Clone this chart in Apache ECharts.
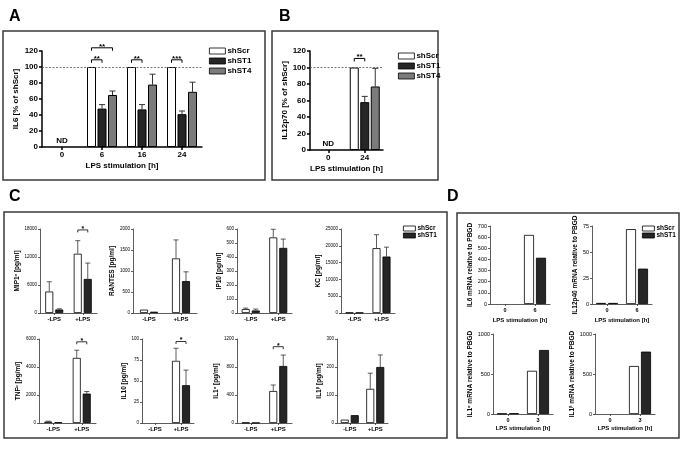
<!DOCTYPE html>
<html><head><meta charset="utf-8">
<script src="https://cdn.jsdelivr.net/npm/echarts@6/dist/echarts.min.js"></script>
<style>html,body{margin:0;padding:0;background:#fff}#c{width:685px;height:450px}</style>
</head><body><div id="c"></div>
<script>
const FONT = '"Liberation Sans", Arial, sans-serif';

// ---------- Panel A ----------
const catsA = ['0', '6', '16', '24'];
const aScr = [null, 100, 100, 100];
const aST1 = [null, 48, 47, 41];
const aST1Err = [null, 53, 53, 45];
const aST4 = [null, 65, 78, 69];
const aST4Err = [null, 70, 91, 81];
const sigA = [[1, 109, 0, 1], [1, 124, 0, 2], [2, 109, 0, 1], [3, 109, 0, 1]];
const sigAText = ['**', '**', '**', '***'];

// ---------- Panel B ----------
const catsB = ['0', '24'];
const bScr = [null, 100];
const bST1 = [null, 58];
const bST1Err = [null, 65];
const bST4 = [null, 77];
const bST4Err = [null, 99];
const sigB = [[1, 111, 0, 1]];
const sigBText = ['**'];

// ---------- Panel C ----------
const catsC = ['-LPS', '+LPS'];
const mipScr = [4600, 12700], mipScrErr = [6700, 15500];
const mipST1 = [750, 7300], mipST1Err = [900, 10700];
const rantesScr = [80, 1300], rantesScrErr = [null, 1740];
const rantesST1 = [30, 760], rantesST1Err = [null, 980];
const ip10Scr = [28, 540], ip10ScrErr = [35, 598];
const ip10ST1 = [18, 465], ip10ST1Err = [28, 528];
const kcScr = [100, 19300], kcScrErr = [null, 23300];
const kcST1 = [100, 16800], kcST1Err = [null, 19600];
const tnfScr = [100, 4650], tnfScrErr = [130, 5200];
const tnfST1 = [50, 2100], tnfST1Err = [null, 2250];
const il10Scr = [null, 74], il10ScrErr = [null, 89];
const il10ST1 = [null, 45], il10ST1Err = [null, 63];
const il1aScr = [5, 457], il1aScrErr = [null, 543];
const il1aST1 = [3, 814], il1aST1Err = [null, 971];
const il1bScr = [12, 122], il1bScrErr = [null, 178];
const il1bST1 = [28, 200], il1bST1Err = [null, 243];

// ---------- Panel D ----------
const catsD1 = ['0', '6'];
const catsD2 = ['0', '3'];
const il6mScr = [null, 620], il6mST1 = [null, 415];
const il12mScr = [1, 72], il12mST1 = [1, 34];
const il1amScr = [5, 540], il1amST1 = [8, 800];
const il1bmScr = [null, 600], il1bmST1 = [null, 780];

const COLORS = { shScr: '#ffffff', shST1: '#262626', shST4: '#7b7b7b' };

const option = {
  animation: false, backgroundColor: '#fff', textStyle: { fontFamily: FONT },
  grid: [], xAxis: [], yAxis: [], series: [], legend: [], graphic: []
};

// Greek letters in axis names are drawn small and raised, as in the figure
function richName(name) {
  return name.replace(/[^αβ]+/g, m => '{b|' + m + '}').replace(/[αβ]/g, m => '{s|' + m + '}');
}

function addPanel(p) {
  const gi = option.grid.length;
  const axCol = p.axisColor || '#000';
  option.grid.push({ left: p.left, top: p.top, width: p.width, height: p.height });
  option.xAxis.push({
    type: 'category', gridIndex: gi, data: p.cats,
    axisLine: { lineStyle: { color: axCol, width: p.axisW } },
    axisTick: { show: true, alignWithLabel: true, length: p.tickLen, lineStyle: { color: axCol, width: p.axisW } },
    axisLabel: { color: '#000', fontSize: p.xFont, fontWeight: 'bold', margin: p.xMargin, fontFamily: FONT, interval: 0 },
    name: p.xName || '', nameLocation: 'middle', nameGap: p.xNameGap || 0,
    nameTextStyle: { color: '#000', fontSize: p.xNameFont || 8, fontWeight: 'bold', fontFamily: FONT }
  });
  const hasGreek = /[αβ]/.test(p.yName);
  option.yAxis.push({
    type: 'value', gridIndex: gi, min: 0, max: p.max, interval: p.interval,
    splitLine: { show: false },
    axisLine: { show: true, lineStyle: { color: axCol, width: p.axisW } },
    axisTick: { show: true, length: p.tickLen, lineStyle: { color: axCol, width: p.axisW } },
    axisLabel: { color: '#000', fontSize: p.yFont, fontWeight: p.yBold ? 'bold' : 'normal', margin: p.yMargin, fontFamily: FONT, formatter: v => String(v) },
    name: hasGreek ? richName(p.yName) : p.yName, nameLocation: 'middle', nameRotate: 90, nameGap: p.yNameGap,
    nameTextStyle: {
      color: '#000', fontSize: p.yNameFont, fontWeight: 'bold', fontFamily: FONT,
      rich: {
        b: { fontSize: p.yNameFont, fontWeight: 'bold', fontFamily: FONT, color: '#000' },
        s: { fontSize: p.yNameFont * 0.62, fontWeight: 'bold', fontFamily: FONT, color: '#000', padding: [0, 0, p.yNameFont * 0.45, 0] }
      }
    }
  });
  const n = p.series.length;
  const step = p.barW + p.gapPx;
  p.series.forEach((s, k) => {
    const ser = {
      type: 'bar', name: s.name, xAxisIndex: gi, yAxisIndex: gi, data: s.data,
      barWidth: p.barW, barGap: (p.gapPx / p.barW * 100) + '%',
      itemStyle: { color: COLORS[s.name], borderColor: '#000', borderWidth: p.bw }, z: 2
    };
    if (k === 0 && p.refLine != null) {
      ser.markLine = {
        silent: true, symbol: 'none', label: { show: false },
        lineStyle: { type: [2, 1.5], color: '#555', width: 0.8 }, data: [{ yAxis: p.refLine }]
      };
    }
    option.series.push(ser);
  });
  const errData = [];
  p.series.forEach((s, k) => {
    if (!s.err) return;
    s.err.forEach((e, i) => { if (e != null && s.data[i] != null) errData.push([i, s.data[i], e, k]); });
  });
  if (errData.length) {
    option.series.push({
      type: 'custom', xAxisIndex: gi, yAxisIndex: gi, data: errData, z: 3, clip: false,
      renderItem: (params, api) => {
        const i = api.value(0), v = api.value(1), e = api.value(2), k = api.value(3);
        const p0 = api.coord([i, v]), p1 = api.coord([i, e]);
        const x = p0[0] + (k - (n - 1) / 2) * step;
        const cap = p.cap;
        return {
          type: 'group', children: [
            { type: 'line', shape: { x1: x, y1: p0[1], x2: x, y2: p1[1] }, style: { stroke: '#333', lineWidth: p.errW } },
            { type: 'line', shape: { x1: x - cap, y1: p1[1], x2: x + cap, y2: p1[1] }, style: { stroke: '#333', lineWidth: p.errW } }
          ]
        };
      }
    });
  }
  if (p.sig) {
    option.series.push({
      type: 'custom', xAxisIndex: gi, yAxisIndex: gi, data: p.sig, z: 3, clip: false,
      renderItem: (params, api) => {
        const i = api.value(0), y = api.value(1), k1 = api.value(2), k2 = api.value(3);
        const c = api.coord([i, y]);
        const x1 = c[0] + (k1 - (n - 1) / 2) * step, x2 = c[0] + (k2 - (n - 1) / 2) * step;
        const txt = p.sigText[params.dataIndex];
        return {
          type: 'group', children: [
            { type: 'polyline', shape: { points: [[x1, c[1] + p.sigTick], [x1, c[1]], [x2, c[1]], [x2, c[1] + p.sigTick]] }, style: { stroke: '#000', fill: null, lineWidth: p.sigW } },
            { type: 'text', x: (x1 + x2) / 2, y: c[1] + p.sigFont * 0.35, style: { text: txt, fontSize: p.sigFont, fontWeight: 'bold', fill: '#000', align: 'center', verticalAlign: 'bottom', fontFamily: FONT } }
          ]
        };
      }
    });
  }
  if (p.nd != null) {
    option.series.push({
      type: 'custom', xAxisIndex: gi, yAxisIndex: gi, data: [[p.nd, 0]], z: 3, clip: false,
      renderItem: (params, api) => {
        const c = api.coord([api.value(0), api.value(1)]);
        return { type: 'text', x: c[0], y: c[1] - 2, style: { text: 'ND', fontSize: p.xFont, fontWeight: 'bold', fill: '#000', align: 'center', verticalAlign: 'bottom', fontFamily: FONT } };
      }
    });
  }
}

// Common styles
const styleAB = { axisW: 1.5, tickLen: 3, xFont: 8, yFont: 8, yBold: true, xMargin: 4, yMargin: 4, xNameFont: 8, yNameFont: 8, barW: 9, gapPx: 1.5, bw: 1, errW: 1, cap: 3, sigTick: 3, sigW: 1, sigFont: 8 };
const styleC = { axisW: 0.8, tickLen: 2, xFont: 6, yFont: 4.5, xMargin: 3, yMargin: 3, yNameFont: 6.5, barW: 8, gapPx: 2, bw: 0.8, errW: 0.8, cap: 2.5, sigTick: 2.5, sigW: 0.8, sigFont: 7, axisColor: '#333' };
const styleD = { axisW: 0.8, tickLen: 2, xFont: 5.5, yFont: 5.5, xMargin: 3, yMargin: 3, xNameFont: 6, yNameFont: 6.5, barW: 10, gapPx: 2, bw: 0.8, axisColor: '#333' };

// A
addPanel(Object.assign({}, styleAB, {
  left: 42, top: 51, width: 160, height: 96, cats: catsA, max: 120, interval: 20,
  xName: 'LPS stimulation [h]', xNameGap: 15, yName: 'IL6 [% of shScr]', yNameGap: 22, refLine: 100, nd: 0,
  series: [{ name: 'shScr', data: aScr }, { name: 'shST1', data: aST1, err: aST1Err }, { name: 'shST4', data: aST4, err: aST4Err }],
  sig: sigA, sigText: sigAText
}));
// B
addPanel(Object.assign({}, styleAB, {
  left: 310, top: 51, width: 73, height: 99, cats: catsB, max: 120, interval: 20,
  xName: 'LPS stimulation [h]', xNameGap: 15, yName: 'IL12p70 [% of shScr]', yNameGap: 16, refLine: 100, nd: 0,
  series: [{ name: 'shScr', data: bScr }, { name: 'shST1', data: bST1, err: bST1Err }, { name: 'shST4', data: bST4, err: bST4Err }],
  sig: sigB, sigText: sigBText
}));
// C
function cPanel(left, top, width, max, interval, yName, yNameGap, scr, scrErr, st1, st1Err, sig) {
  addPanel(Object.assign({}, styleC, {
    left, top, width, height: 84, cats: catsC, max, interval, yName, yNameGap,
    series: [{ name: 'shScr', data: scr, err: scrErr }, { name: 'shST1', data: st1, err: st1Err }],
    sig: sig ? [sig] : null, sigText: ['*']
  }));
}
cPanel(40, 229, 57, 18000, 6000, 'MIP1α [pg/ml]', 14, mipScr, mipScrErr, mipST1, mipST1Err, [1, 17800, 0, 1]);
cPanel(133, 229, 64, 2000, 500, 'RANTES [pg/ml]', 14, rantesScr, rantesScrErr, rantesST1, rantesST1Err, null);
cPanel(237, 229, 55, 600, 100, 'IP10 [pg/ml]', 14, ip10Scr, ip10ScrErr, ip10ST1, ip10ST1Err, null);
cPanel(341, 229, 54, 25000, 5000, 'KC [pg/ml]', 19, kcScr, kcScrErr, kcST1, kcST1Err, null);
cPanel(39, 339, 57, 6000, 2000, 'TNFα [pg/ml]', 14, tnfScr, tnfScrErr, tnfST1, tnfST1Err, [1, 5800, 0, 1]);
cPanel(142, 339, 52, 100, 25, 'IL10 [pg/ml]', 12, il10Scr, il10ScrErr, il10ST1, il10ST1Err, [1, 97, 0, 1]);
cPanel(237, 339, 55, 1200, 400, 'IL1α [pg/ml]', 14, il1aScr, il1aScrErr, il1aST1, il1aST1Err, [1, 1090, 0, 1]);
cPanel(337, 339, 51, 300, 100, 'IL1β [pg/ml]', 13, il1bScr, il1bScrErr, il1bST1, il1bST1Err, null);

// D
function dPanel(left, top, height, cats, max, interval, yName, yNameGap, xNameGap, scr, st1) {
  addPanel(Object.assign({}, styleD, {
    left, top, width: 60, height, cats, max, interval, yName, yNameGap,
    xName: 'LPS stimulation [h]', xNameGap,
    series: [{ name: 'shScr', data: scr }, { name: 'shST1', data: st1 }]
  }));
}
dPanel(490, 226, 78, catsD1, 700, 100, 'IL6 mRNA relative to PBGD', 16, 13, il6mScr, il6mST1);
dPanel(592, 226, 78, catsD1, 75, 25, 'IL12p40 mRNA relative to PBGD', 13, 13, il12mScr, il12mST1);
dPanel(493, 334, 80, catsD2, 1000, 500, 'IL1α mRNA relative to PBGD', 16, 11, il1amScr, il1amST1);
dPanel(595, 334, 80, catsD2, 1000, 500, 'IL1β mRNA relative to PBGD', 13, 11, il1bmScr, il1bmST1);

// Legends
function addLegend(left, top, names, iw, ih, gap, font) {
  option.legend.push({
    left, top, orient: 'vertical', itemWidth: iw, itemHeight: ih, itemGap: gap, padding: 0,
    data: names.map(n => ({ name: n, icon: 'rect' })), selectedMode: false,
    itemStyle: { borderWidth: 0.8, borderColor: '#000' },
    textStyle: { fontSize: font, fontWeight: 'bold', color: '#000', fontFamily: FONT, padding: [0, 0, 0, -3] }
  });
}
addLegend(209, 47, ['shScr', 'shST1', 'shST4'], 16, 6, 2, 8);
addLegend(398, 52, ['shScr', 'shST1', 'shST4'], 16, 6, 2, 8);
addLegend(403, 225, ['shScr', 'shST1'], 12, 5, 0, 6.5);
addLegend(642, 225, ['shScr', 'shST1'], 12, 5, 0, 6.5);

// Frames and panel letters
const frame = (x, y, w, h) => ({ type: 'rect', silent: true, shape: { x, y, width: w, height: h }, style: { fill: null, stroke: '#3a3a3a', lineWidth: 1.5 } });
const letter = (t, x, y) => ({ type: 'text', silent: true, x, y, style: { text: t, fontSize: 16, fontWeight: 'bold', fill: '#000', fontFamily: FONT, align: 'left', verticalAlign: 'top' } });
option.graphic = [
  frame(3, 31, 262, 149), frame(272, 31, 166, 149), frame(4, 212, 443, 226), frame(457, 213, 222, 225),
  letter('A', 9, 9), letter('B', 279, 9), letter('C', 9, 189), letter('D', 447, 189)
];

const chart = echarts.init(document.getElementById('c'), null, { renderer: 'canvas' });
chart.setOption(option);
</script></body></html>
